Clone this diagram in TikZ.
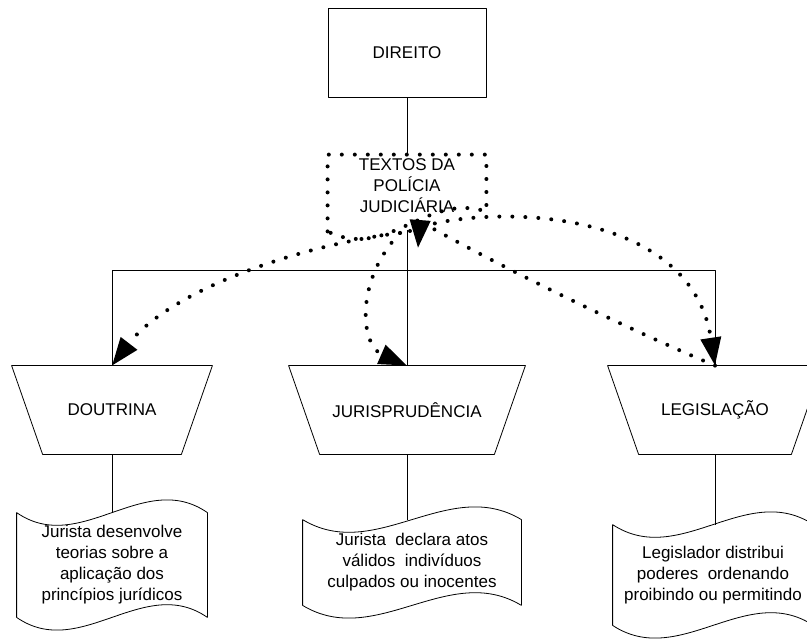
\documentclass[tikz,border=0pt]{standalone}
\usepackage{fontspec}
\setmainfont{Liberation Sans}
\usetikzlibrary{arrows.meta,calc}

% contorno de folha ondulada em volta de um no retangular
\newcommand{\fita}[1]{%
  \draw (#1.north west) .. controls ($(#1.north west)!1/3!(#1.north east)+(0,44)$) and ($(#1.north west)!2/3!(#1.north east)+(0,-44)$) .. (#1.north east)
    -- (#1.south east) .. controls ($(#1.south west)!2/3!(#1.south east)+(0,-44)$) and ($(#1.south west)!1/3!(#1.south east)+(0,44)$) .. (#1.south west) -- cycle;}
% trapezio (funil) em volta de um no retangular
\newcommand{\funil}[1]{%
  \draw (#1.north west) -- (#1.north east) -- ($(#1.south east)+(-31,0)$) -- ($(#1.south west)+(31,0)$) -- cycle;}

\begin{document}
\begin{tikzpicture}[x=1pt, y=-1pt, line width=0.8pt, line join=round,
    >={Triangle[length=28pt,width=20pt]},
    txt/.style={font=\fontsize{17}{21}\selectfont, align=center},
    caixa/.style={txt, rectangle, draw, minimum width=158pt, minimum height=89pt},
    funilno/.style={txt, rectangle, inner sep=0pt, minimum height=88pt, minimum width=#1},
    folha/.style={txt, rectangle, inner sep=0pt},
    pontos/.style={line width=4pt, line cap=round, dash pattern=on 0pt off 13pt}]
                    \useasboundingbox (0,0) rectangle (807,639);

                    \node[caixa] (direito) at (407,52.5) {DIREITO};
                    \node[txt, rectangle, inner sep=0pt, minimum width=158pt, minimum height=62pt] (textos) at (407,186) {TEXTOS DA\\POLÍCIA\\JUDICIÁRIA};
                    \draw[pontos] ($(textos.south west)+(0,14)$) -- (textos.north west) -- (textos.north east) -- ++(0,57) .. controls +(-60,-20) and +(60,30) .. ($(textos.south west)+(0,14)$);

                    \node[funilno=200pt] (doutrina) at (112,410) {DOUTRINA};
                    \node[funilno=236pt] (juris) at (407,410) {JURISPRUDÊNCIA};
                    \node[funilno=214pt] (legis) at (715,410) {LEGISLAÇÃO};
                    \funil{doutrina}
                    \funil{juris}
                    \funil{legis}

                    \node[folha, minimum width=190pt, minimum height=104pt] (d1) at (112,565) {Jurista desenvolve\\teorias sobre a\\aplicação dos\\princípios jurídicos};
                    \node[folha, minimum width=218pt, minimum height=85pt] (d2) at (412,562.5) {Jurista~ declara atos\\válidos~ indivíduos\\culpados ou inocentes};
                    \node[folha, minimum width=200pt, minimum height=100pt] (d3) at (713,575) {Legislador distribui\\poderes~ ordenando\\proibindo ou permitindo};
                    \fita{d1}
                    \fita{d2}
                    \fita{d3}

                    \coordinate (base) at (407,230);
                    \coordinate (juncao) at (407,270);
                    \draw (direito.south) -- (textos.north);
                    \draw (base) -- (juris.north);
                    \draw (juncao) -| (doutrina.north);
                    \draw (juncao) -| (legis.north);
                    \draw (doutrina.south) -- (doutrina.south |- d1.north);
                    \draw (juris.south) -- (juris.south |- d2.north);
                    \draw (legis.south) -- (legis.south |- d3.north);

                    \coordinate (saida) at (400,233);
                    \coordinate (saida2) at (410,231);
                    \coordinate (chegada) at (418,248);
                    \draw[pontos,->] (saida) .. controls (300,245) and (170,290) .. (doutrina.north);
                    \draw[pontos,->] (saida) .. controls (355,280) and (360,345) .. (juris.north);
                    \draw[pontos,->] (saida2) .. controls (470,205) and (690,200) .. (legis.north);
                    \draw[pontos,->] (legis.north) .. controls (560,300) and (420,222) .. (chegada);
                \end{tikzpicture}
\end{document}
